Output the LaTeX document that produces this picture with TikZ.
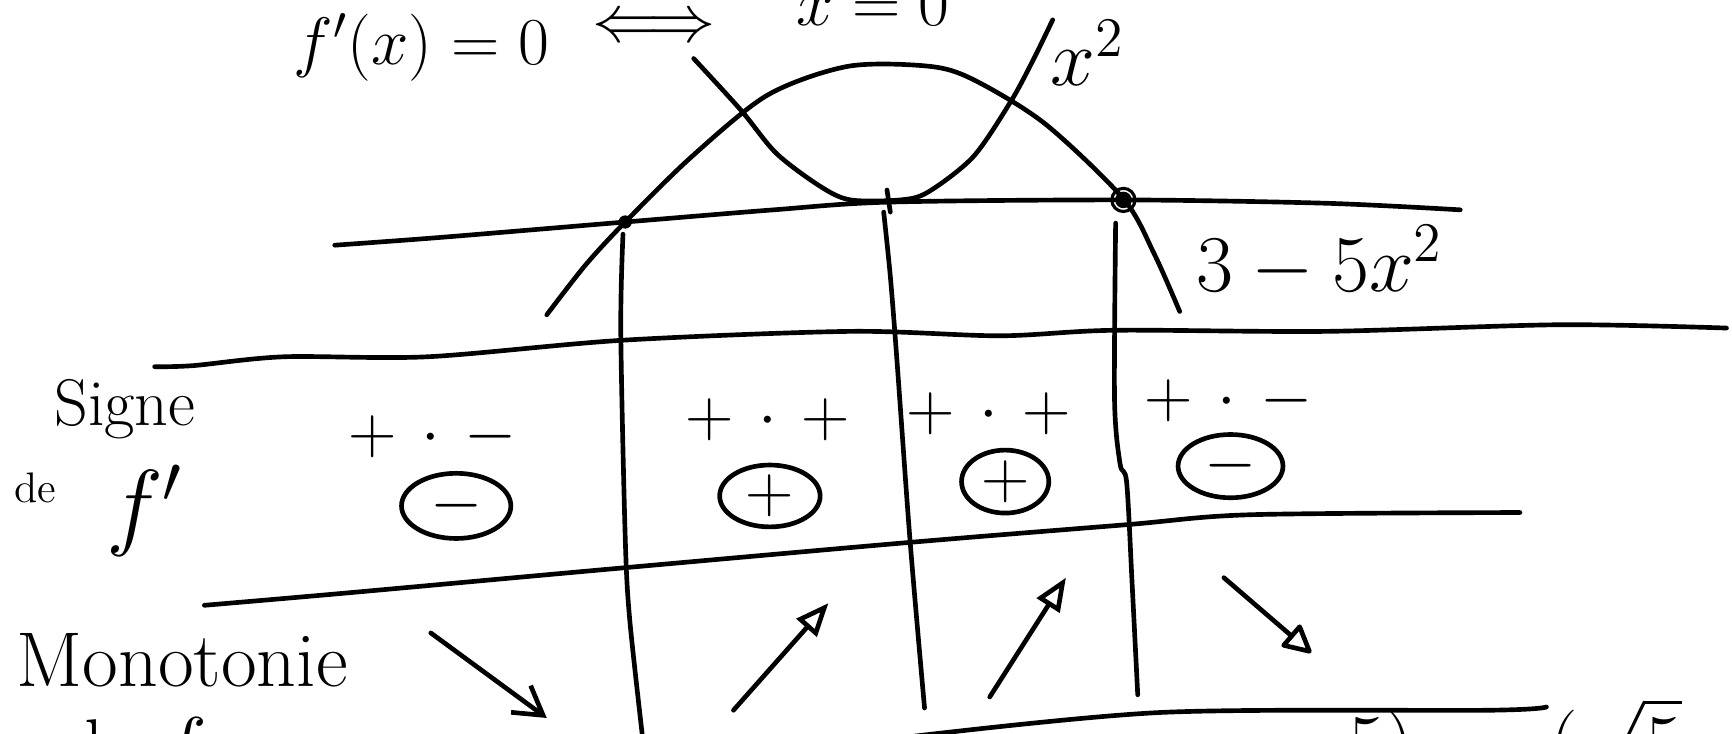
\documentclass[tikz,border=0pt]{standalone}
\usepackage{amsmath,amssymb}
\usetikzlibrary{arrows.meta,shapes.geometric}
\tikzset{
    ink/.style={
        line width=1.2pt,
        line cap=round,
        line join=round
    },
    handtext/.style={
        font=\fontsize{20}{24}\selectfont,
        inner sep=0pt
    },
    signoval/.style={
        draw,
        ellipse,
        line width=1.2pt,
        inner sep=0pt,
        font=\fontsize{18}{20}\selectfont
    },
    trend/.style={
        ink,
        -{Triangle[open,length=3mm,width=2.4mm]}
    }
}
\newcommand{\facteurs}[2]{${#1}\hspace{0.35em}{\cdot}\hspace{0.35em}{#2}$}

\begin{document}
\begin{tikzpicture}[x=0.1mm,y=-0.1mm]

    \fill[white] (0,0) rectangle (1568,664);
    \useasboundingbox (0,0) rectangle (1568,664);
    \clip (0,0) rectangle (1568,664);

    % Ligne du haut (coupee)
    \node[handtext,font=\fontsize{17}{20}\selectfont,anchor=base west] (deriv) at (265,58) {$f'(x)=0$};
    \node[handtext,font=\fontsize{17}{20}\selectfont] (equiv) at (592,26) {$\Longleftrightarrow$};
    \node[handtext,font=\fontsize{17}{20}\selectfont,anchor=base west] (racine) at (720,23) {$x=0$};

    % Axe
    \draw[ink] plot[smooth] coordinates {(303,222) (398,215) (566,201) (700,190) (804,183) (1017,181) (1200,184) (1322,190)};

    % Courbe x^2
    \draw[ink] plot[smooth] coordinates {(628,53) (671,100) (703,139) (743,169) (770,181) (815,181) (840,174) (881,142) (915,92) (935,55) (953,18)};

    % Courbe 3-5x^2
    \draw[ink] plot[smooth] coordinates {(495,285) (530,240) (566,201) (626,142) (695,86) (768,60) (841,60) (881,72) (946,112) (1017,180) (1045,230) (1068,282)};

    % Points
    \coordinate (z1) at (566,201);
    \coordinate (z0) at (804,182);
    \coordinate (z2) at (1017,181);
    \fill (z1) circle (0.6mm);
    \fill (z2) circle (0.75mm);
    \draw[line width=0.8pt] (z2) circle (1.05mm);
    \draw[ink] (803,172) -- (806,192);

    \node[handtext] (lx2) at (985,48) {$x^2$};
    \node[handtext] (lquad) at (1195,237) {$3-5x^2$};

    % Tableau
    \draw[ink] plot[smooth] coordinates {(140,332) (175,331) (257,323) (387,323) (564,308) (770,300) (905,304) (1009,299) (1201,300) (1412,294) (1563,297)};
    \draw[ink] plot[smooth] coordinates {(185,548) (312,537) (543,516) (824,491) (1020,475) (1132,466) (1376,464)};
    \draw[ink] plot[smooth] coordinates {(815,668) (1051,645) (1349,643) (1400,640)};

    \draw[ink] plot[smooth] coordinates {(564,212) (562,300) (566,486) (570,560) (582,670)};
    \draw[ink] plot[smooth] coordinates {(800,192) (806,250) (812,326) (824,491) (837,641)};
    \draw[ink] plot[smooth] coordinates {(1010,202) (1009,362) (1014,420) (1020,437) (1025,530) (1030,629)};

    % Signe de f'
    \node[handtext,font=\fontsize{17}{20}\selectfont] (signe) at (113,370) {Signe};
    \node[handtext,font=\fontsize{11}{12}\selectfont] (de) at (32,442) {de};
    \node[handtext,font=\fontsize{24}{26}\selectfont] (fprime) at (131,462) {$f'$};

    \node[handtext,font=\fontsize{18}{20}\selectfont] (s1) at (392,395) {\facteurs{+}{-}};
    \node[handtext,font=\fontsize{18}{20}\selectfont] (s2) at (695,380) {\facteurs{+}{+}};
    \node[handtext,font=\fontsize{18}{20}\selectfont] (s3) at (895,375) {\facteurs{+}{+}};
    \node[handtext,font=\fontsize{18}{20}\selectfont] (s4) at (1112,363) {\facteurs{+}{-}};

    \node[signoval,minimum width=9.9mm,minimum height=5.9mm] (o1) at (413,458) {$-$};
    \node[signoval,minimum width=9.1mm,minimum height=5.6mm] (o2) at (697,449) {$+$};
    \node[signoval,minimum width=7.9mm,minimum height=5.7mm] (o3) at (910,436) {$+$};
    \node[signoval,minimum width=9.5mm,minimum height=4.8mm] (o4) at (1114,422) {$-$};

    % Monotonie
    \node[handtext] (mono) at (165,598) {Monotonie};
    \node[handtext,anchor=base west] (def) at (58,700) {de $f$};

    \coordinate (a1s) at (390,573);
    \coordinate (a1e) at (495,650);
    \coordinate (a2s) at (664,643);
    \coordinate (a2e) at (750,546);
    \coordinate (a3s) at (896,631);
    \coordinate (a3e) at (965,523);
    \coordinate (a4s) at (1108,523);
    \coordinate (a4e) at (1187,591);
    \draw[ink,-{Straight Barb[length=2.5mm,width=3mm]}] (a1s) -- (a1e);
    \draw[trend] (a2s) -- (a2e);
    \draw[trend] (a3s) -- (a3e);
    \draw[ink,-{Triangle[open,round,length=2.8mm,width=2.8mm]}] (a4s) -- (a4e);

    % Bas (coupe)
    \node[handtext,anchor=base west] (b1) at (1220,698) {$5)$};
    \node[handtext,anchor=base west] (b2) at (1402,698) {$(\sqrt{5}$};

\end{tikzpicture}
\end{document}
